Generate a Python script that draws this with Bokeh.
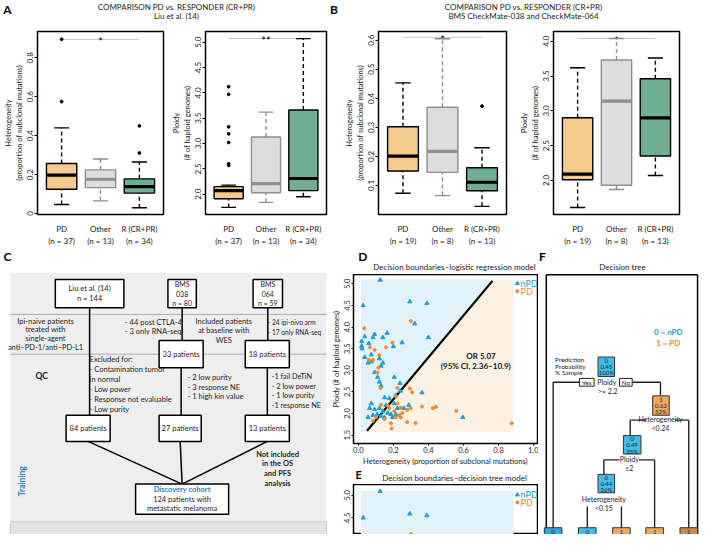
import math
from bokeh.plotting import figure
from bokeh.models import Range1d, FixedTicker, NumeralTickFormatter
from bokeh.layouts import column, row
from bokeh.embed import file_html
from bokeh.resources import INLINE
from bokeh.core.properties import value

FONT = "Lato"
REF_W, REF_H = 715, 550
OUT_W, OUT_H = 699, 534
SX = OUT_W / REF_W
SY = OUT_H / REF_H


def sx(v):
    return int(round(v * SX))


def sy(v):
    return int(round(v * SY))


# ------------------------------------------------------------------ data
groups = ["PD", "Other", "R (CR+PR)"]
liu_n = [37, 13, 34]
bms_n = [19, 8, 13]

# Liu et al. heterogeneity (whisker low, Q1, median, Q3, whisker high)
liu_het_low = [0.046, 0.065, 0.030]
liu_het_q1 = [0.125, 0.133, 0.105]
liu_het_med = [0.197, 0.176, 0.138]
liu_het_q3 = [0.257, 0.224, 0.178]
liu_het_high = [0.44, 0.28, 0.265]
liu_het_out_group = [1, 1, 3, 3]
liu_het_out_value = [0.575, 0.895, 0.311, 0.45]

# Liu et al. ploidy
liu_pl_low = [1.74, 1.84, 1.95]
liu_pl_q1 = [1.91, 2.03, 2.07]
liu_pl_med = [2.07, 2.21, 2.31]
liu_pl_q3 = [2.15, 3.13, 3.66]
liu_pl_high = [2.18, 3.62, 5.07]
liu_pl_out_group = [1, 1, 1, 1, 1, 1, 1]
liu_pl_out_value = [4.12, 3.97, 3.33, 3.19, 3.02, 2.60, 2.57]

# BMS heterogeneity
bms_het_low = [0.073, 0.065, 0.028]
bms_het_q1 = [0.150, 0.145, 0.082]
bms_het_med = [0.201, 0.217, 0.111]
bms_het_q3 = [0.302, 0.369, 0.161]
bms_het_high = [0.453, 0.605, 0.230]
bms_het_out_group = [3]
bms_het_out_value = [0.373]

# BMS ploidy
bms_pl_low = [1.61, 1.87, 2.07]
bms_pl_q1 = [2.01, 1.93, 2.35]
bms_pl_med = [2.09, 3.14, 2.90]
bms_pl_q3 = [2.90, 3.73, 3.46]
bms_pl_high = [3.62, 4.04, 3.76]
bms_pl_out_group = []
bms_pl_out_value = []

# scatter: heterogeneity vs ploidy
npd_het = [0.125, 0.028, 0.294, 0.391, 0.322, 0.40, 0.164, 0.093, 0.084, 0.037,
           0.019, 0.019, 0.022, 0.14, 0.20, 0.25, 0.06, 0.037, 0.074, 0.12,
           0.14, 0.13, 0.056, 0.074, 0.093, 0.11, 0.12, 0.13, 0.205, 0.238,
           0.363, 0.24, 0.214, 0.15, 0.177, 0.074, 0.065, 0.093, 0.12, 0.14,
           0.168, 0.186, 0.108, 0.13, 0.084, 0.223, 0.26, 0.288, 0.205, 0.214,
           0.596, 0.158, 0.195, 0.056, 0.149]
npd_ploidy = [5.09, 4.50, 4.59, 4.55, 4.08, 3.76, 3.86, 3.83, 3.76, 3.78,
              3.67, 3.56, 3.50, 3.76, 3.55, 3.64, 3.62, 3.30, 3.36, 3.27,
              3.17, 3.10, 3.17, 3.20, 2.95, 2.84, 2.73, 2.64, 2.84, 2.70,
              2.48, 2.52, 2.42, 2.37, 2.35, 2.23, 2.12, 2.09, 2.12, 2.05,
              2.01, 1.98, 1.98, 1.94, 1.96, 2.12, 2.12, 2.19, 2.23, 1.98,
              1.91, 2.19, 1.91, 1.91, 1.91]
pd_het = [0.30, 0.034, 0.067, 0.093, 0.12, 0.195, 0.158, 0.06, 0.084, 0.115,
          0.11, 0.127, 0.223, 0.294, 0.307, 0.214, 0.168, 0.177, 0.242, 0.279,
          0.251, 0.298, 0.363, 0.425, 0.443, 0.559, 0.223, 0.233, 0.242, 0.149,
          0.102, 0.084, 0.186, 0.19, 0.279, 0.326, 0.875, 0.214, 0.205, 0.13]
pd_ploidy = [4.14, 3.97, 3.53, 3.47, 3.35, 3.64, 3.53, 3.24, 3.24, 3.06,
             2.95, 2.59, 2.59, 2.58, 2.49, 2.39, 2.18, 2.12, 2.13, 2.08,
             2.01, 2.12, 2.16, 2.12, 2.15, 2.06, 2.23, 1.96, 1.91, 1.87,
             1.91, 1.83, 1.77, 1.65, 1.80, 1.78, 1.77, 1.91, 2.05, 2.20]

lr_boundary_het = [0.05, 0.765]
lr_boundary_ploidy = [1.60, 5.07]
grid_het = [0.015, 0.885]
grid_ploidy = [1.57, 5.10]
tree_ploidy_split = 2.2

# ------------------------------------------------------------------ styles
NPD_C = "#1e9fd2"
PD_C = "#ef8a2f"
BOX_FILL = ["#f6c98d", "#dddddd", "#6fae90"]
BOX_LINE = ["black", "#8e8e8e", "black"]
TXT = "#222222"


def canvas(x0, x1, y0, y1):
    p = figure(width=sx(x1) - sx(x0), height=sy(y1) - sy(y0),
               x_range=Range1d(x0, x1), y_range=Range1d(y1, y0),
               x_axis_type=None, y_axis_type=None, output_backend="svg",
               toolbar_location=None, min_border=0, outline_line_color=None)
    return p


def txt(p, x, y, s, size="8px", align="center", color=TXT, style="normal", angle=0.0):
    p.text(x=[x], y=[y], text=[s], text_font=value(FONT), text_font_size=size,
           text_align=align, text_baseline="middle", text_color=color,
           text_font_style=style, angle=angle)


def box_panel(fig_l, fig_r, fr_l, fr_r, ylim, yticks, ylabel,
              low, q1, med, q3, high, out_g, out_v, ns, sig_y, sig_text,
              overrides=None):
    p = figure(width=sx(fig_r) - sx(fig_l), height=sy(255) - sy(30),
               x_range=Range1d(0.38, 3.62), y_range=Range1d(*ylim),
               output_backend="svg", toolbar_location=None,
               min_border_left=sx(fr_l) - sx(fig_l),
               min_border_right=sx(fig_r) - sx(fr_r),
               min_border_top=sy(32) - sy(30),
               min_border_bottom=sy(255) - sy(229))
    p.outline_line_color = "black"
    p.outline_line_width = 1.5
    p.grid.visible = False
    xs = [1, 2, 3]
    hw = 0.39
    # significance bar
    p.segment(x0=[1], y0=[sig_y], x1=[3], y1=[sig_y], line_color="#c4c4c4", line_width=1)
    p.text(x=[2], y=[sig_y], text=[sig_text], text_align="center", text_baseline="middle",
           text_font_size="11px", text_font=value(FONT), text_color="black", y_offset=2)
    # whiskers
    p.segment(x0=xs, y0=q3, x1=xs, y1=high, line_color=BOX_LINE, line_dash="4 3", line_width=1.4)
    p.segment(x0=xs, y0=low, x1=xs, y1=q1, line_color=BOX_LINE, line_dash="4 3", line_width=1.4)
    p.segment(x0=[x - hw / 2 for x in xs], y0=high, x1=[x + hw / 2 for x in xs], y1=high,
              line_color=BOX_LINE, line_width=1.4)
    p.segment(x0=[x - hw / 2 for x in xs], y0=low, x1=[x + hw / 2 for x in xs], y1=low,
              line_color=BOX_LINE, line_width=1.4)
    # boxes
    p.quad(left=[x - hw for x in xs], right=[x + hw for x in xs], bottom=q1, top=q3,
           fill_color=BOX_FILL, line_color=BOX_LINE, line_width=1.4)
    p.segment(x0=[x - hw for x in xs], y0=med, x1=[x + hw for x in xs], y1=med,
              line_color=BOX_LINE, line_width=3.2)
    if out_v:
        p.scatter(x=out_g, y=out_v, size=2.8, color="black")
    # axes
    p.xaxis.ticker = FixedTicker(ticks=xs)
    p.xaxis.major_label_overrides = {1: "PD\n(n = %d)" % ns[0], 2: "Other\n(n = %d)" % ns[1],
                                     3: "R (CR+PR)\n(n = %d)" % ns[2]}
    p.xaxis.axis_line_color = None
    p.xaxis.major_tick_line_color = None
    p.xaxis.major_label_standoff = 3
    p.yaxis.ticker = FixedTicker(ticks=yticks)
    p.yaxis.formatter = NumeralTickFormatter(format="0.0")
    if overrides:
        p.yaxis.major_label_overrides = overrides
    p.yaxis.major_label_orientation = "vertical"
    p.yaxis.axis_line_color = None
    p.yaxis.major_tick_out = 3
    p.yaxis.major_tick_in = 0
    p.yaxis.major_label_standoff = 1
    p.yaxis.axis_label = ylabel
    p.yaxis.axis_label_standoff = 1
    p.axis.minor_tick_line_color = None
    p.axis.major_label_text_font = FONT
    p.axis.major_label_text_font_size = "8px"
    p.axis.major_label_text_color = TXT
    p.axis.axis_label_text_font = FONT
    p.axis.axis_label_text_font_size = "7.5px"
    p.axis.axis_label_text_font_style = "normal"
    p.axis.axis_label_text_color = TXT
    return p


# ------------------------------------------------------------------ top strip
top = canvas(0, 715, 0, 30)
txt(top, 7, 9, "A", size="12px", style="bold", color="black")
txt(top, 341, 9, "B", size="12px", style="bold", color="black")
txt(top, 180, 6.5, "COMPARISON PD vs. RESPONDER (CR+PR)", size="8px")
txt(top, 180, 16.5, "Liu et al. (14)", size="8px")
txt(top, 535, 6.5, "COMPARISON PD vs. RESPONDER (CR+PR)", size="8px")
txt(top, 535, 16.5, "BMS CheckMate-038 and CheckMate-064", size="8px")

BOUNDS = [0, 172, 345, 528, 715]
het_label = "Heterogeneity\n(proportion of subclonal mutations)"
pl_label = "Ploidy\n(# of haploid genomes)"

a1 = box_panel(BOUNDS[0], BOUNDS[1], 27, 167, (-0.005, 0.935), [0, 0.2, 0.4, 0.6, 0.8], het_label,
               liu_het_low, liu_het_q1, liu_het_med, liu_het_q3, liu_het_high,
               liu_het_out_group, liu_het_out_value, liu_n, 0.895, "*", overrides={0: "0"})
a2 = box_panel(BOUNDS[1], BOUNDS[2], 200, 333, (1.60, 5.21), [2.0, 2.5, 3.0, 3.5, 4.0, 4.5, 5.0], pl_label,
               liu_pl_low, liu_pl_q1, liu_pl_med, liu_pl_q3, liu_pl_high,
               liu_pl_out_group, liu_pl_out_value, liu_n, 5.07, "**")
b1 = box_panel(BOUNDS[2], BOUNDS[3], 387, 518, (0.0, 0.63), [0.1, 0.2, 0.3, 0.4, 0.5, 0.6], het_label,
               bms_het_low, bms_het_q1, bms_het_med, bms_het_q3, bms_het_high,
               bms_het_out_group, bms_het_out_value, bms_n, 0.61, "*")
b2 = box_panel(BOUNDS[3], BOUNDS[4], 563, 695, (1.51, 4.14), [2.0, 2.5, 3.0, 3.5, 4.0], pl_label,
               bms_pl_low, bms_pl_q1, bms_pl_med, bms_pl_q3, bms_pl_high,
               bms_pl_out_group, bms_pl_out_value, bms_n, 4.04, "*")

# ------------------------------------------------------------------ C flowchart
c = canvas(0, 335, 255, 550)
txt(c, 7, 263, "C", size="12px", style="bold", color="black")
c.quad(left=[10], right=[333], top=[280], bottom=[537], fill_color="#eeeeee", line_color=None)
c.quad(left=[10], right=[333], top=[537], bottom=[552], fill_color="#e3e3e3", line_color="#c8c8c8")
c.segment(x0=[10, 10], y0=[323, 364], x1=[333, 333], y1=[323, 364], line_color="#ababab", line_width=1)
# connectors
c.segment(x0=[91, 185.5, 184.5, 273, 272.5, 89.5, 183.5, 272.5],
          y0=[316, 316, 378, 316, 378, 454, 454, 454],
          x1=[91, 185.5, 184.5, 273, 272.5, 185.5, 185.5, 185.5],
          y1=[427, 350, 427, 350, 427, 498, 498, 498],
          line_color="black", line_width=1.5)
bx_l = [56, 171, 258, 162, 250, 67, 162, 250, 138]
bx_r = [126, 200, 288, 207, 295, 112, 205, 295, 233]
bx_t = [287, 287, 287, 350, 350, 427, 427, 427, 498]
bx_b = [316, 316, 316, 378, 378, 454, 454, 454, 529]
c.quad(left=bx_l, right=bx_r, top=bx_t, bottom=bx_b, fill_color="white", line_color="black", line_width=1.5)
txt(c, 91, 296, "Liu et al. (14)", size="7.5px")
txt(c, 91, 307, "n = 144", size="7.5px")
for i, s in enumerate(["BMS", "038", "n = 80"]):
    txt(c, 185.5, 292 + 9.5 * i, s, size="7px")
for i, s in enumerate(["BMS", "064", "n = 59"]):
    txt(c, 273, 292 + 9.5 * i, s, size="7px")
txt(c, 184.5, 364, "33 patients", size="7.5px")
txt(c, 272.5, 364, "18 patients", size="7.5px")
txt(c, 89.5, 440.5, "84 patients", size="7.5px")
txt(c, 183.5, 440.5, "27 patients", size="7.5px")
txt(c, 272.5, 440.5, "13 patients", size="7.5px")
for i, s in enumerate(["Ipi-naive patients", "treated with", "single-agent", "anti\u2013PD-1/anti\u2013PD-L1"]):
    txt(c, 46, 330 + 9 * i, s, size="7.5px")
for i, s in enumerate(["- 44 post CTLA-4", "- 3 only RNA-seq"]):
    txt(c, 127, 331 + 10 * i, s, size="7.5px", align="left")
for i, s in enumerate(["Included patients", "at baseline with", "WES"]):
    txt(c, 228, 330 + 10 * i, s, size="7.5px")
for i, s in enumerate(["- 24 ipi-nivo arm", "- 17 only RNA-seq"]):
    txt(c, 273, 331 + 10 * i, s, size="6.6px", align="left")
for i, s in enumerate(["Excluded for:", "- Contamination tumor", "in normal", "- Low power",
                       "- Response not evaluable", "- Low purity"]):
    txt(c, 91, 370 + 10.3 * i, s, size="7.5px", align="left")
txt(c, 42, 387, "QC", size="8.5px", style="bold")
for i, s in enumerate(["- 2 low purity", "- 3 response NE", "- 1 high kin value"]):
    txt(c, 191, 388 + 10 * i, s, size="7.5px", align="left")
for i, s in enumerate(["-1 fail DeTiN", "- 2 low power", "- 1 low purity", "-1 response NE"]):
    txt(c, 277, 387 + 10 * i, s, size="7.3px", align="left")
for i, s in enumerate(["Not included", "in the OS", "and PFS", "analysis"]):
    txt(c, 283, 467 + 10 * i, s, size="7.5px", style="bold")
txt(c, 185.5, 504, "Discovery cohort", size="7.5px", style="bold", color="#1d7fc0")
txt(c, 185.5, 513.5, "124 patients with", size="7.5px")
txt(c, 185.5, 523, "metastatic melanoma", size="7.5px")
txt(c, 22, 495, "Training", size="8.5px", style="bold", color="#1d7fc0", angle=math.pi / 2)


# ------------------------------------------------------------------ D / E scatter
def scatter_panel(y0, y1, fr_t, fr_b, ylim, yticks, show_x):
    p = figure(width=sx(550) - sx(335), height=sy(y1) - sy(y0),
               x_range=Range1d(-0.0273, 1.0219), y_range=Range1d(*ylim),
               output_backend="svg", toolbar_location=None,
               min_border_left=sx(357) - sx(335), min_border_right=sx(550) - sx(549),
               min_border_top=sy(fr_t) - sy(y0), min_border_bottom=sy(y1) - sy(fr_b),
               x_axis_location=("below" if show_x else None))
    p.outline_line_color = "black"
    p.outline_line_width = 1.5
    p.grid.visible = False
    p.yaxis.ticker = FixedTicker(ticks=yticks)
    p.yaxis.formatter = NumeralTickFormatter(format="0.0")
    p.yaxis.major_label_orientation = "vertical"
    p.yaxis.axis_line_color = None
    p.axis.minor_tick_line_color = None
    p.axis.major_tick_out = 2
    p.axis.major_tick_in = 0
    p.axis.major_label_standoff = 1
    p.axis.major_label_text_font = FONT
    p.axis.major_label_text_font_size = "7.5px"
    p.axis.major_label_text_color = TXT
    p.axis.axis_label_text_font = FONT
    p.axis.axis_label_text_font_size = "7.5px"
    p.axis.axis_label_text_font_style = "normal"
    p.axis.axis_label_text_color = TXT
    p.axis.axis_label_standoff = 1
    if show_x:
        p.xaxis.ticker = FixedTicker(ticks=[0, 0.2, 0.4, 0.6, 0.8, 1.0])
        p.xaxis.formatter = NumeralTickFormatter(format="0.0")
        p.xaxis.axis_line_color = None
        p.xaxis.axis_label = "Heterogeneity (proportion of subclonal mutations)"
        p.yaxis.axis_label = "Ploidy (# of haploid genomes)"
    return p


d = scatter_panel(282, 482, 282, 462, (1.304, 5.217), [1.5, 2.0, 2.5, 3.0, 3.5, 4.0, 4.5, 5.0], True)
slope = (lr_boundary_ploidy[1] - lr_boundary_ploidy[0]) / (lr_boundary_het[1] - lr_boundary_het[0])
xb_lo = lr_boundary_het[0] + (grid_ploidy[0] - lr_boundary_ploidy[0]) / slope
xb_hi = lr_boundary_het[0] + (grid_ploidy[1] - lr_boundary_ploidy[0]) / slope
d.patch(x=[grid_het[0], xb_lo, xb_hi, grid_het[0]],
        y=[grid_ploidy[0], grid_ploidy[0], grid_ploidy[1], grid_ploidy[1]],
        fill_color="#e3f2fa", line_color=None)
d.patch(x=[xb_lo, grid_het[1], grid_het[1], xb_hi],
        y=[grid_ploidy[0], grid_ploidy[0], grid_ploidy[1], grid_ploidy[1]],
        fill_color="#fdf1e3", line_color=None)
d.line(x=lr_boundary_het, y=lr_boundary_ploidy, line_color="black", line_width=2.2)
d.scatter(x=npd_het, y=npd_ploidy, marker="triangle", size=4.2, color=NPD_C)
d.scatter(x=pd_het, y=pd_ploidy, marker="circle", size=3.0, color=PD_C)
d.text(x=[0.70], y=[3.32], text=["OR 5.07"], text_font=value(FONT), text_font_size="8px",
       text_font_style="bold", text_align="center", text_baseline="middle", text_color="#111111")
d.text(x=[0.67], y=[3.11], text=["(95% CI, 2.36\u201310.9)"], text_font=value(FONT), text_font_size="8px",
       text_font_style="bold", text_align="center", text_baseline="middle", text_color="#111111")


def scatter_legend(p, y_top, dy):
    p.scatter(x=[0.907], y=[y_top], marker="triangle", size=4, color=NPD_C)
    p.scatter(x=[0.907], y=[y_top - dy], marker="circle", size=3, color=PD_C)
    p.text(x=[0.925, 0.925], y=[y_top, y_top - dy], text=["nPD", "PD"], text_font=value(FONT),
           text_font_size="9px", text_color=[NPD_C, PD_C], text_align="left", text_baseline="middle")


scatter_legend(d, 5.01, 0.18)

e = scatter_panel(499, 550, 499, 550, (4.13, 5.239), [4.0, 4.5, 5.0], False)
e.quad(left=[grid_het[0]], right=[grid_het[1]], bottom=[tree_ploidy_split], top=[grid_ploidy[1]],
       fill_color="#e3f2fa", line_color=None)
e.scatter(x=npd_het, y=npd_ploidy, marker="triangle", size=4.2, color=NPD_C)
e.scatter(x=pd_het, y=pd_ploidy, marker="circle", size=3.0, color=PD_C)
scatter_legend(e, 5.01, 0.17)

dtop = canvas(335, 550, 255, 282)
txt(dtop, 346, 263, "D", size="12px", style="bold", color="black")
txt(dtop, 453, 274, "Decision boundaries\u2013logistic regression model", size="8px")
etop = canvas(335, 550, 482, 499)
txt(etop, 341, 488, "E", size="11px", style="bold", color="black")
txt(etop, 453, 492, "Decision boundaries\u2013decision tree model", size="8px")

# ------------------------------------------------------------------ F decision tree
f = canvas(550, 715, 255, 550)
txt(f, 554, 263, "F", size="12px", style="bold", color="black")
txt(f, 636, 274, "Decision tree", size="8px")
f.segment(x0=[558, 558, 713], y0=[282, 282, 282], x1=[558, 713, 713], y1=[552, 282, 552],
          line_color="black", line_width=1.5)
txt(f, 683, 341, "0 = nPD", size="8px", style="bold", color=NPD_C)
txt(f, 683, 352, "1 = PD", size="8px", style="bold", color=PD_C)
for i, s in enumerate(["Prediction", "Probability", "% Sample"]):
    txt(f, 567, 370 + 6.5 * i, s, size="6.5px", align="left")
# branches
f.segment(x0=[565, 565, 646, 675, 644, 644, 690, 704, 617, 617, 653, 669, 600, 635],
          y0=[393, 393, 393, 393, 432, 432, 432, 432, 473, 473, 473, 473, 521, 521],
          x1=[592, 565, 675, 675, 660, 644, 704, 704, 633, 617, 669, 669, 600, 635],
          y1=[393, 543, 393, 407, 432, 448, 432, 543, 473, 488, 473, 543, 543, 543],
          line_color="#222222", line_width=1.4)
# internal nodes
node_l = [611, 667, 637, 611]
node_r = [628, 684, 655, 628]
node_t = [367, 407, 448, 488]
node_b = [387, 427, 467, 507]
node_c = ["#45bbe8", "#f0a860", "#45bbe8", "#45bbe8"]
node_txt = [["0", "0.45", "100%"], ["1", "0.62", "52%"], ["0", "0.49", "35%"], ["0", "0.44", "26%"]]
f.quad(left=node_l, right=node_r, top=node_t, bottom=node_b, fill_color=node_c, line_color="#333333", line_width=1)
for k in range(4):
    cx = (node_l[k] + node_r[k]) / 2
    for i, s in enumerate(node_txt[k]):
        txt(f, cx, node_t[k] + 4 + 6 * i, s, size="6px")
# leaves
leaf_x = [565, 600, 635, 669, 704]
leaf_c = ["#2aa7de", "#45bbe8", "#f0a860", "#f0a860", "#c98b4e"]
leaf_lab = ["0", "0", "1", "1", "1"]
f.quad(left=[x - 9 for x in leaf_x], right=[x + 9 for x in leaf_x], top=[543] * 5, bottom=[560] * 5,
       fill_color=leaf_c, line_color="#333333", line_width=1)
for x, s in zip(leaf_x, leaf_lab):
    txt(f, x, 547, s, size="6px")
# split labels
f.quad(left=[592, 633], right=[607, 646], top=[389, 389], bottom=[397, 397],
       fill_color="white", line_color="#222222", line_width=1)
txt(f, 599.5, 393, "Yes", size="6.5px")
txt(f, 639.5, 393, "No", size="6.5px")
txt(f, 620, 393, "Ploidy", size="7px")
txt(f, 621, 402, ">= 2.2", size="7px")
txt(f, 675, 431, "Heterogeneity", size="7px")
txt(f, 675, 440, "<0.24", size="7px")
txt(f, 643, 472, "Ploidy", size="7px")
txt(f, 643, 481, "\u22652", size="7px")
txt(f, 617, 513, "Heterogeneity", size="7px")
txt(f, 617, 523, "<0.15", size="7px")

# ------------------------------------------------------------------ layout
layout = column(
    top,
    row(a1, a2, b1, b2, spacing=0),
    row(c, column(dtop, d, etop, e, spacing=0), f, spacing=0),
    spacing=0,
)

open("out.html", "w").write(file_html(layout, INLINE, "Figure"))
